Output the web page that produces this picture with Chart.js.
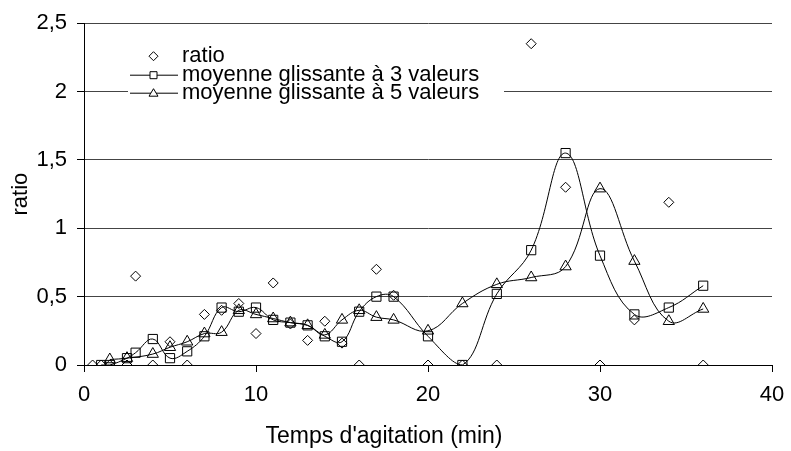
<!DOCTYPE html>
<html>
<head>
<meta charset="utf-8">
<script src="https://cdn.jsdelivr.net/npm/chart.js@4/dist/chart.umd.min.js"></script>
<style>
  html, body { margin: 0; padding: 0; background: #fff; }
  #box { width: 791px; height: 451px; }
</style>
</head>
<body>
<div id="box"><canvas id="graphe"></canvas></div>
<script>
// temps (min) et valeurs
const tempsRatio = [0.5, 1, 1.5, 2.5, 3, 4, 5, 6, 7, 8, 9, 10, 11, 12, 13, 14, 15, 16, 17, 18, 20, 22, 24, 26, 28, 30, 32, 34, 36];
const ratio = [0, 0, 0, 0, 0.65, 0, 0.17, 0, 0.37, 0.40, 0.45, 0.23, 0.60, 0.30, 0.18, 0.32, 0.16, 0, 0.70, 0.51, 0, 0, 0, 2.35, 1.30, 0, 0.33, 1.19, 0];

const tempsMoy3 = [1, 1.5, 2.5, 3, 4, 5, 6, 7, 8, 9, 10, 11, 12, 13, 14, 15, 16, 17, 18, 20, 22, 24, 26, 28, 30, 32, 34, 36];
const moy3 = [0, 0, 0.05, 0.09, 0.19, 0.05, 0.10, 0.21, 0.42, 0.39, 0.42, 0.33, 0.31, 0.29, 0.21, 0.17, 0.39, 0.50, 0.50, 0.21, 0, 0.52, 0.84, 1.55, 0.80, 0.37, 0.42, 0.58];

const tempsMoy5 = [1.5, 2.5, 4, 5, 6, 7, 8, 9, 10, 11, 12, 13, 14, 15, 16, 17, 18, 20, 22, 24, 26, 28, 30, 32, 34, 36];
const moy5 = [0.04, 0.05, 0.08, 0.13, 0.17, 0.23, 0.24, 0.40, 0.37, 0.34, 0.31, 0.29, 0.22, 0.33, 0.40, 0.35, 0.33, 0.25, 0.45, 0.59, 0.64, 0.72, 1.29, 0.76, 0.32, 0.41];

const yTicks = [0, 0.5, 1, 1.5, 2, 2.5];
const xTicks = [0, 10, 20, 30, 40];

const titreX = "Temps d'agitation (min)";
const police = "'Liberation Sans', Arial, sans-serif";

function points(xs, ys) {
    return xs.map((x, i) => ({ x: x, y: ys[i] }));
}

// légende à l'intérieur du graphique + titre de l'axe x (décalé à gauche comme dans Excel)
const legendeInterne = {
    id: 'legendeInterne',
    afterDatasetsDraw(chart) {
        const c = chart.ctx;
        const a = chart.chartArea;
        const x0 = a.left + 44;
        c.save();
        c.fillStyle = '#fff';
        c.fillRect(x0, a.top + 10, 376, 72);
        c.strokeStyle = '#000';
        c.fillStyle = '#000';
        c.lineWidth = 1;
        c.font = '22px ' + police;
        c.textBaseline = 'alphabetic';
        const lignes = [a.top + 39, a.top + 58, a.top + 76];
        chart.data.datasets.forEach((ds, i) => {
            const yb = lignes[i];
            const ym = yb - 6;
            const xm = x0 + 25.5;
            if (ds.showLine !== false) {
                c.beginPath();
                c.moveTo(x0 + 2, ym);
                c.lineTo(x0 + 50, ym);
                c.stroke();
            }
            c.beginPath();
            if (ds.pointStyle === 'rectRot') {
                c.moveTo(xm, ym - 4.5); c.lineTo(xm + 4.5, ym);
                c.lineTo(xm, ym + 4.5); c.lineTo(xm - 4.5, ym);
                c.closePath();
            } else if (ds.pointStyle === 'rect') {
                c.rect(xm - 3.5, ym - 3.5, 7, 7);
            } else {
                c.moveTo(xm, ym - 4.5); c.lineTo(xm + 4.5, ym + 3);
                c.lineTo(xm - 4.5, ym + 3);
                c.closePath();
            }
            c.fillStyle = '#fff';
            c.fill();
            c.stroke();
            c.fillStyle = '#000';
            c.fillText(ds.label, x0 + 54, yb);
        });
        c.font = '23px ' + police;
        c.textAlign = 'center';
        c.textBaseline = 'middle';
        c.fillText(titreX, a.left + 300, 437);
        c.restore();
    }
};

const ctx = document.getElementById('graphe').getContext('2d');
const graphe = new Chart(ctx, {
    type: 'scatter',
    data: {
        datasets: [{
            label: 'ratio',
            data: points(tempsRatio, ratio),
            showLine: false,
            pointStyle: 'rectRot',
            pointRadius: 5,
            borderColor: '#000',
            backgroundColor: 'rgba(0,0,0,0)',
            pointBorderWidth: 1
        }, {
            label: 'moyenne glissante à 3 valeurs',
            data: points(tempsMoy3, moy3),
            showLine: true,
            tension: 0.4,
            pointStyle: 'rect',
            pointRadius: 6.5,
            borderColor: '#000',
            borderWidth: 1,
            backgroundColor: 'rgba(0,0,0,0)',
            pointBorderWidth: 1
        }, {
            label: 'moyenne glissante à 5 valeurs',
            data: points(tempsMoy5, moy5),
            showLine: true,
            tension: 0.4,
            pointStyle: 'triangle',
            pointRadius: 6.5,
            borderColor: '#000',
            borderWidth: 1,
            backgroundColor: 'rgba(0,0,0,0)',
            pointBorderWidth: 1
        }]
    },
    options: {
        responsive: true,
        maintainAspectRatio: false,
        animation: false,
        layout: { padding: { top: 23, right: 19, bottom: 0, left: 0 } },
        plugins: {
            legend: { display: false },
            tooltip: { enabled: false }
        },
        scales: {
            x: {
                type: 'linear',
                min: 0,
                max: 40,
                afterBuildTicks: (s) => { s.ticks = xTicks.map(v => ({ value: v })); },
                afterFit: (s) => { s.height = 86; s.paddingLeft = 0; s.paddingRight = 0; },
                border: { color: '#000', width: 1 },
                grid: { drawOnChartArea: false, drawTicks: true, tickLength: 7, color: '#000' },
                ticks: { color: '#000', font: { family: police, size: 22 }, padding: 10, maxRotation: 0 },
                title: { display: false }
            },
            y: {
                min: 0,
                max: 2.5,
                afterBuildTicks: (s) => { s.ticks = yTicks.map(v => ({ value: v })); },
                afterFit: (s) => { s.width = 84; },
                border: { color: '#000', width: 1 },
                grid: { color: '#444', tickLength: 7, tickColor: '#000' },
                ticks: {
                    color: '#000',
                    font: { family: police, size: 22 },
                    padding: 10,
                    callback: (v) => String(v).replace('.', ',')
                },
                title: {
                    display: true,
                    text: 'ratio',
                    color: '#000',
                    font: { family: police, size: 22 },
                    padding: { top: 8, bottom: 0 }
                }
            }
        }
    },
    plugins: [legendeInterne]
});
</script>
</body>
</html>
